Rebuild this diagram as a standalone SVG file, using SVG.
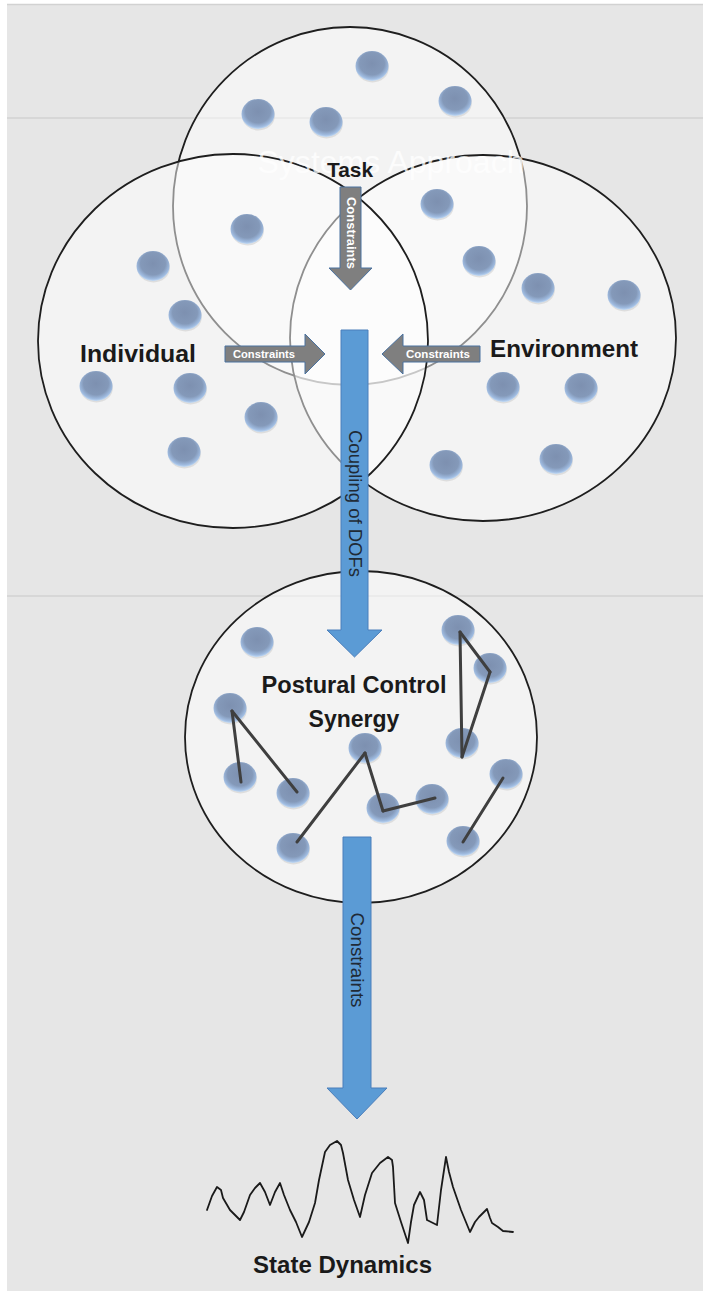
<svg xmlns="http://www.w3.org/2000/svg" xmlns:xlink="http://www.w3.org/1999/xlink" width="703" height="1291" viewBox="0 0 703 1291">
<defs>
<radialGradient id="dotGrad" cx="50%" cy="42%" r="58%">
<stop offset="0" stop-color="#7d90b0"/>
<stop offset="0.65" stop-color="#8499b9"/>
<stop offset="0.88" stop-color="#9fbbe0"/>
<stop offset="1" stop-color="#c4dcf6"/>
</radialGradient>
<g id="dot">
<ellipse cx="0.5" cy="1.5" rx="16.5" ry="15" fill="#cfcfcf" opacity="0.6"/>
<ellipse cx="0" cy="0" rx="16.5" ry="15" fill="url(#dotGrad)"/>
</g>
</defs>
<style>
.circ{fill:#ffffff;fill-opacity:0.5;stroke:#1e1e1e;stroke-width:1.8}
.lbl{font-family:"Liberation Sans",Arial,sans-serif;font-weight:bold;fill:#1a1a1a}
.blue{fill:#5b9bd5;stroke:#4a7ebb;stroke-width:1}
.gray{fill:#7f7f7f;stroke:#4a72a0;stroke-width:1}
.wtxt{font-family:"Liberation Sans",Arial,sans-serif;font-weight:bold;fill:#ffffff}
.atxt{font-family:"Liberation Sans",Arial,sans-serif;fill:#1f2a36}
.link{stroke:#3f3f3f;stroke-width:3;stroke-linecap:round;fill:none}
.hl{stroke:#d2d2d2;stroke-width:1.5}
</style>
<rect x="0" y="0" width="703" height="1291" fill="#ffffff"/>
<rect x="7" y="4" width="696" height="1287" fill="#e6e6e6"/>
<line class="hl" x1="7" y1="4.5" x2="703" y2="4.5"/>
<line class="hl" x1="7" y1="118" x2="703" y2="118"/>
<line class="hl" x1="7" y1="596" x2="703" y2="596"/>

<g id="node-task">
<ellipse class="circ" cx="350" cy="206" rx="177" ry="179"/>
</g>
<g id="node-environment">
<ellipse class="circ" cx="483" cy="338" rx="193" ry="183"/>
</g>
<g id="node-individual">
<ellipse class="circ" cx="233" cy="341" rx="195" ry="187"/>
</g>
<g id="node-postural">
<ellipse class="circ" cx="361" cy="737" rx="176" ry="166"/>
</g>

<g id="dots-task">
<use xlink:href="#dot" x="372" y="66"/>
<use xlink:href="#dot" x="258" y="114"/>
<use xlink:href="#dot" x="326" y="122"/>
<use xlink:href="#dot" x="455" y="101"/>
<use xlink:href="#dot" x="247" y="229"/>
<use xlink:href="#dot" x="437" y="204"/>
<use xlink:href="#dot" x="479" y="261"/>
</g>
<g id="dots-individual">
<use xlink:href="#dot" x="153" y="266"/>
<use xlink:href="#dot" x="185" y="315"/>
<use xlink:href="#dot" x="96" y="386"/>
<use xlink:href="#dot" x="190" y="388"/>
<use xlink:href="#dot" x="261" y="417"/>
<use xlink:href="#dot" x="184" y="452"/>
</g>
<g id="dots-environment">
<use xlink:href="#dot" x="538" y="288"/>
<use xlink:href="#dot" x="624" y="295"/>
<use xlink:href="#dot" x="503" y="387"/>
<use xlink:href="#dot" x="581" y="388"/>
<use xlink:href="#dot" x="446" y="465"/>
<use xlink:href="#dot" x="556" y="459"/>
</g>
<g id="dots-postural">
<use xlink:href="#dot" x="257" y="642"/>
<use xlink:href="#dot" x="458" y="630"/>
<use xlink:href="#dot" x="490" y="668"/>
<use xlink:href="#dot" x="230" y="708"/>
<use xlink:href="#dot" x="365" y="748"/>
<use xlink:href="#dot" x="462" y="743"/>
<use xlink:href="#dot" x="240" y="777"/>
<use xlink:href="#dot" x="293" y="793"/>
<use xlink:href="#dot" x="383" y="808"/>
<use xlink:href="#dot" x="432" y="799"/>
<use xlink:href="#dot" x="506" y="774"/>
<use xlink:href="#dot" x="293" y="848"/>
<use xlink:href="#dot" x="463" y="841"/>
</g>
<g id="synergy-links">
<line class="link" x1="232" y1="711" x2="241" y2="782"/>
<line class="link" x1="232" y1="711" x2="297" y2="792"/>
<line class="link" x1="365" y1="753" x2="297" y2="842"/>
<line class="link" x1="365" y1="753" x2="383" y2="811"/>
<line class="link" x1="383" y1="811" x2="435" y2="798"/>
<line class="link" x1="460" y1="632" x2="462" y2="757"/>
<line class="link" x1="460" y1="632" x2="490" y2="672"/>
<line class="link" x1="490" y1="672" x2="462" y2="757"/>
<line class="link" x1="503" y1="778" x2="463" y2="842"/>
</g>

<text x="391" y="173" text-anchor="middle" font-family="Liberation Sans, Arial, sans-serif" font-size="32" fill="#ffffff" fill-opacity="0.75" textLength="267" lengthAdjust="spacingAndGlyphs">Systems Approach</text>

<g id="connectors">
<g id="arrow-task">
<polygon class="gray" points="340,187 361,187 361,268 372,268 350.5,290 329,268 340,268"/>
<text class="wtxt" font-size="12" text-anchor="middle" dominant-baseline="central" transform="translate(351,233) rotate(90)" textLength="72" lengthAdjust="spacingAndGlyphs">Constraints</text>
</g>
<g id="arrow-individual">
<polygon class="gray" points="225,346 305,346 305,334 325,354 305,374 305,362 225,362"/>
<text class="wtxt" font-size="10" text-anchor="middle" x="264" y="358" textLength="62" lengthAdjust="spacingAndGlyphs">Constraints</text>
</g>
<g id="arrow-environment">
<polygon class="gray" points="480,346 403,346 403,334 382,354 403,374 403,362 480,362"/>
<text class="wtxt" font-size="10" text-anchor="middle" x="438" y="358" textLength="64" lengthAdjust="spacingAndGlyphs">Constraints</text>
</g>
<g id="arrow-coupling">
<polygon class="blue" points="341,330 368,330 368,630 382,630 354.5,657 327,630 341,630"/>
<text class="atxt" font-size="18" text-anchor="middle" dominant-baseline="central" transform="translate(355,503.5) rotate(90)" textLength="147" lengthAdjust="spacingAndGlyphs">Coupling of DOFs</text>
</g>
<g id="arrow-constraints">
<polygon class="blue" points="343,837 371,837 371,1088 387,1088 357,1119 327,1088 343,1088"/>
<text class="atxt" font-size="18" text-anchor="middle" dominant-baseline="central" transform="translate(357,960) rotate(90)" textLength="95" lengthAdjust="spacingAndGlyphs">Constraints</text>
</g>
</g>

<g id="labels">
<text class="lbl" x="350" y="177" font-size="21" text-anchor="middle" textLength="46" lengthAdjust="spacingAndGlyphs">Task</text>
<text class="lbl" x="80" y="362" font-size="24" textLength="116" lengthAdjust="spacingAndGlyphs">Individual</text>
<text class="lbl" x="490" y="357" font-size="24" textLength="148" lengthAdjust="spacingAndGlyphs">Environment</text>
<text class="lbl" x="354" y="693" font-size="23" text-anchor="middle" textLength="185" lengthAdjust="spacingAndGlyphs">Postural Control</text>
<text class="lbl" x="354" y="727" font-size="23" text-anchor="middle">Synergy</text>
</g>

<g id="node-state">
<polyline fill="none" stroke="#1a1a1a" stroke-width="1.8" stroke-linejoin="round" stroke-linecap="round" points="207,1210 212,1196 217,1187 221,1190 223,1198 230,1210 240,1220 244,1212 250,1195 255,1188 260,1183 265,1192 270,1205 275,1192 280,1183 284,1195 290,1210 296,1222 302,1237 309,1222 315,1203 319,1180 325,1152 330,1145 337,1141 341,1145 343,1153 348,1180 354,1200 360,1217 365,1195 372,1173 380,1163 388,1157 392,1160 393,1167 395,1203 401,1222 408,1243 411,1222 414,1205 420,1192 424,1200 427,1220 437,1225 441,1190 446,1157 449,1172 453,1187 461,1210 470,1232 475,1222 479,1217 487,1209 490,1218 492,1223 498,1227 503,1231 513,1232"/>
<text class="lbl" x="342.5" y="1273" font-size="24" text-anchor="middle" textLength="179" lengthAdjust="spacingAndGlyphs">State Dynamics</text>
</g>
</svg>
